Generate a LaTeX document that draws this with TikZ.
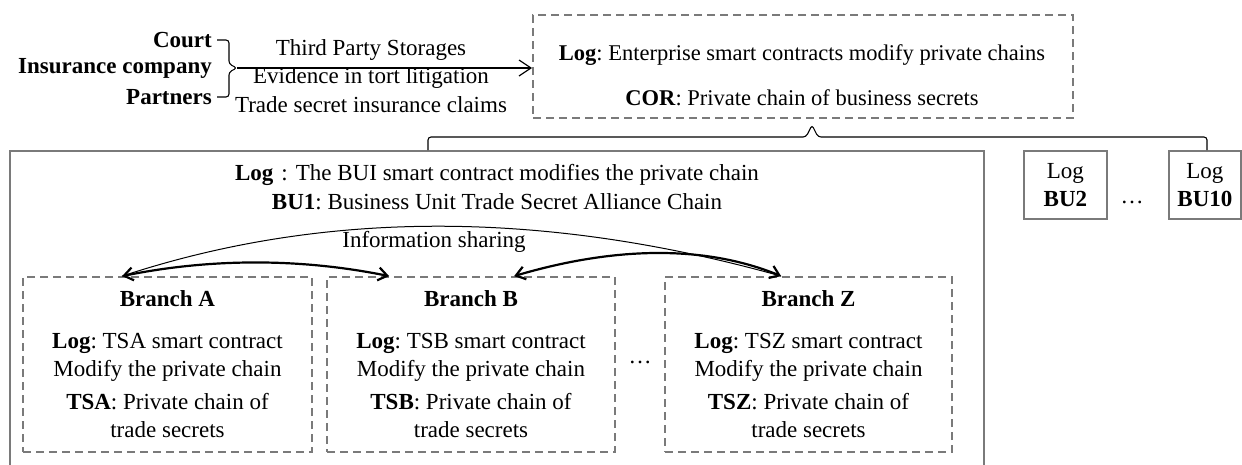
\documentclass[tikz,border=0pt]{standalone}
\usepackage{fontspec}
\setmainfont{Liberation Serif}
\usetikzlibrary{arrows.meta,calc}
\definecolor{boxgray}{HTML}{7A7A7A}
\frenchspacing
\begin{document}
\begin{tikzpicture}[x=1pt,y=-1pt,
  txt/.style={inner sep=0pt, font=\fontsize{23}{28}\selectfont, align=center},
  txtsm/.style={inner sep=0pt, font=\fontsize{22.5}{27}\selectfont, align=center},
  dbox/.style={draw=boxgray, line width=1.8pt, dash pattern=on 8pt off 5pt, inner sep=0pt},
  sbox/.style={draw=boxgray, line width=1.8pt, inner sep=0pt},
  brc/.style={draw=black, line width=1.1pt, rounded corners=3pt},
  thinarr/.style={draw=black, line width=1.2pt, -{Straight Barb[length=12pt,width=16pt]}},
  thickarr/.style={draw=black, line width=2.2pt, {Straight Barb[length=9pt,width=13pt]}-{Straight Barb[length=9pt,width=13pt]}},
  arcline/.style={draw=black, line width=1pt}
]
\useasboundingbox (0,0) rectangle (1242,464);

% left labels
\node[txt, anchor=east] (court) at (212,40) {\textbf{Court}};
\node[txt, anchor=east] (ins) at (212,68) {\textbf{Insurance company}};
\node[txt, anchor=east] (part) at (212,97) {\textbf{Partners}};
\coordinate (brtip) at (237,68);
\draw[brc] (217,40) -- (229,40) -- (229,64) -- (brtip) -- (229,72) -- (229,97) -- (217,97);

% top box
\node[dbox, minimum width=540, minimum height=103] (top) at (803,66.5) {};
\node[txtsm] (toplog) at (802,55) {\textbf{Log}: Enterprise smart contracts modify private chains};
\node[txtsm] (cor) at (802,98) {\textbf{COR}: Private chain of business secrets};

\draw[thinarr] (brtip) -- (top.west |- brtip);
\node[txt] (t1) at (371,50) {Third Party Storages};
\node[txt] (t2) at (371,78) {Evidence in tort litigation};
\node[txt] (t3) at (371,105) {Trade secret insurance claims};

% main box
\node[sbox, minimum width=974, minimum height=320, anchor=north west] (main) at (9,150) {};
\node[txt] (bulog) at (497,175) {\textbf{Log}\hspace{0.35em}:\hspace{0.35em}The BUI smart contract modifies the private chain};
\node[txt] (bu1) at (497,202) {\textbf{BU1}: Business Unit Trade Secret Alliance Chain};

% BU2, BU10
\node[sbox, minimum width=83, minimum height=68, anchor=north west] (bu2) at (1023,150) {};
\node[txt] (bu2t) at (bu2.center) {Log\\\textbf{BU2}};
\node[sbox, minimum width=72, minimum height=68, anchor=north west] (bu10) at (1168,150) {};
\node[txt] (bu10t) at (bu10.center) {Log\\\textbf{BU10}};
\node[txt] (dots1) at (1132,202) {…};

% brace between top and bottom
\coordinate (bl) at (428,150);
\coordinate (br) at (1207,150);
\coordinate (btip) at (812,125);
\draw[brc] (bl) -- (428,137) -- (806,137) -- (btip) -- (818,137) -- (1207,137) -- (br);

% branches
\node[dbox, minimum width=289, minimum height=175] (A) at (167.5,364.5) {};
\node[dbox, minimum width=288, minimum height=175] (B) at (471,364.5) {};
\node[dbox, minimum width=287, minimum height=175] (Z) at (808.5,364.5) {};
\node[txt] (At) at (A.center) {\textbf{Branch A}\\[14pt]\textbf{Log}: TSA smart contract\\Modify the private chain\\[5pt]\textbf{TSA}: Private chain of\\trade secrets};
\node[txt] (Bt) at (B.center) {\textbf{Branch B}\\[14pt]\textbf{Log}: TSB smart contract\\Modify the private chain\\[5pt]\textbf{TSB}: Private chain of\\trade secrets};
\node[txt] (Zt) at (Z.center) {\textbf{Branch Z}\\[14pt]\textbf{Log}: TSZ smart contract\\Modify the private chain\\[5pt]\textbf{TSZ}: Private chain of\\trade secrets};
\node[txt] (dots2) at (640,362) {…};

\coordinate (pA) at ($(A.north west)+(100,0)$);
\coordinate (pB1) at ($(B.north west)+(63,0)$);
\coordinate (pB2) at ($(B.north west)+(188,0)$);
\coordinate (pZ) at ($(Z.north west)+(117,0)$);

\draw[arcline] (pA) .. controls ($(pA)+(203,-67)$) and ($(pZ)+(-236,-66)$) .. (pZ);
\node[txt] (info) at (434,242) {Information sharing};
\draw[thickarr] (pA) .. controls ($(pA)+(89,-18)$) and ($(pB1)+(-89,-18)$) .. (pB1);
\draw[thickarr] (pB2) .. controls ($(pB2)+(105,-31)$) and ($(pZ)+(-73,-30)$) .. (pZ);
\end{tikzpicture}
\end{document}
